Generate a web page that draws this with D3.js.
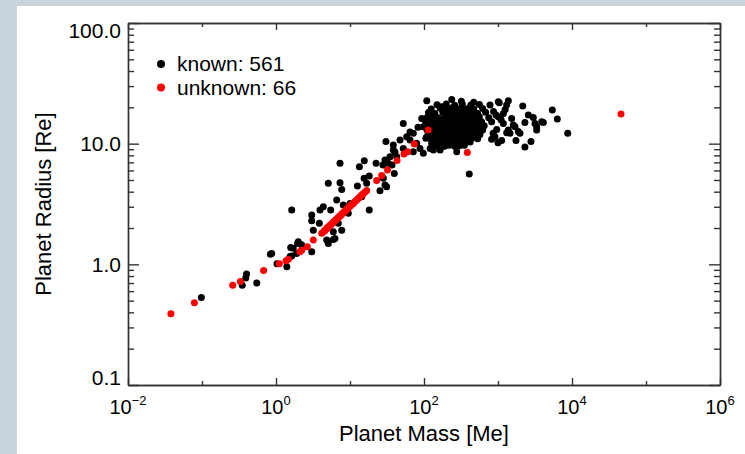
<!DOCTYPE html>
<html>
<head>
<meta charset="utf-8">
<script src="https://cdn.jsdelivr.net/npm/d3@7"></script>
<style>
  html, body { margin: 0; padding: 0; background: #c8d3db; }
  svg { display: block; font-family: "Liberation Sans", Arial, Helvetica, sans-serif; }
</style>
</head>
<body>
<svg id="chart"></svg>
<script>
// [mass (Earth masses), radius (Earth radii)]
const knownPlanets = [
  // small planets / lower part of the relation
  [0.098, 0.53], [0.35, 0.67], [0.39, 0.77], [0.40, 0.83], [0.55, 0.70], [0.84, 1.21], [0.875, 1.23],
  [1.03, 1.01], [1.40, 0.955], [1.58, 1.38], [1.63, 1.17], [1.90, 1.23], [1.96, 1.49], [1.55, 1.16],
  [2.0, 1.54], [2.22, 1.45], [1.71, 1.36], [3.04, 1.27], [1.63, 2.82], [3.04, 2.56], [3.04, 2.30],
  [3.93, 2.82], [4.36, 3.00], [5.48, 2.82], [6.61, 3.41], [8.11, 3.10], [9.49, 2.65], [10.0, 3.20],
  [14.4, 3.63], [18.2, 2.82], [3.85, 2.19], [6.95, 2.19], [7.73, 1.92], [4.84, 1.59], [5.95, 1.61],
  [5.09, 1.49], [3.19, 1.92], [6.27, 1.64], [5.95, 1.86],
  // neptunes / sub-saturns
  [7.33, 6.87], [13.4, 6.44], [15.6, 7.21], [22.5, 6.87], [29.7, 7.31], [34.7, 7.79], [39.7, 5.67],
  [5.09, 4.69], [7.33, 4.74], [7.73, 4.18], [12.6, 4.45], [15.5, 5.16], [18.2, 5.39], [16.8, 4.69],
  [29.7, 4.54], [25.4, 4.07], [28.2, 5.16], [31.3, 4.40], [32.9, 6.87], [27.9, 6.65], [37.0, 6.65],
  // ridge running into the giant cluster
  [52.5, 14.7], [30.6, 10.4], [277, 8.57], [409, 5.60], [38.5, 8.85], [42.8, 7.79], [71.7, 8.57],
  [88.3, 9.14], [97.9, 8.31], [121, 9.14], [127, 10.06], [58.4, 11.4], [71.7, 12.2], [97.9, 13.8],
  [93.1, 16.2], [109, 22.7], [173, 20.2], [237, 23.2], [320, 22.5], [470, 22.0], [38.5, 9.73],
  [47.4, 10.7], [64.7, 10.7], [79.6, 10.06], [52.5, 9.14], [109, 11.4], [121, 14.7], [40.5, 8.52],
  [64.7, 12.5], [83, 13.7], [106, 11.1], [141, 9.55], [165, 8.85], [192, 9.55], [134, 8.85],
  // giant planet cluster
  [150, 21.0], [200, 21.3], [260, 20.8], [330, 21.2], [430, 20.9], [560, 21.1],
  [125, 19.4], [165, 19.7], [210, 19.3], [240, 19.8], [290, 19.5], [350, 19.2], [400, 19.7], [470, 19.4], [620, 19.6],
  [115, 18.1], [140, 17.8], [180, 18.2], [220, 17.9], [260, 18.1], [300, 17.7], [345, 18.2], [390, 17.9],
  [450, 18.0], [530, 17.8], [680, 18.2],
  [110, 16.5], [130, 16.8], [155, 16.4], [190, 16.7], [230, 16.5], [270, 16.8], [315, 16.4], [360, 16.6],
  [410, 16.9], [480, 16.5], [560, 16.7], [750, 16.4],
  [105, 15.3], [125, 15.5], [145, 15.2], [170, 15.6], [205, 15.3], [245, 15.5], [285, 15.2], [330, 15.6],
  [380, 15.4], [440, 15.3], [510, 15.5], [600, 15.2],
  [115, 14.1], [135, 14.3], [160, 14.0], [190, 14.4], [225, 14.1], [265, 14.3], [305, 14.0], [350, 14.4],
  [400, 14.2], [460, 14.0], [540, 14.3], [650, 14.1],
  [110, 13.0], [125, 13.2], [150, 12.9], [180, 13.3], [210, 13.0], [245, 13.2], [285, 12.9], [330, 13.3],
  [380, 13.1], [440, 12.9], [520, 13.2], [620, 13.0],
  [115, 12.0], [140, 12.2], [165, 11.9], [195, 12.3], [230, 12.0], [270, 12.2], [315, 11.9], [365, 12.2],
  [420, 12.0], [480, 12.1], [570, 11.9],
  [120, 11.1], [145, 11.3], [175, 11.0], [205, 11.3], [240, 11.1], [280, 11.2], [325, 10.9], [380, 11.3],
  [440, 11.1], [530, 11.0],
  [135, 10.3], [160, 10.2], [190, 10.4], [225, 10.2], [265, 10.4], [310, 10.3], [360, 10.1], [420, 10.3],
  [150, 9.6], [185, 9.5], [220, 9.7], [260, 9.5], [300, 9.6], [350, 9.7],
  // heavier giants to the right
  [1040, 21.8], [1380, 22.7], [1310, 20.9], [2160, 20.5], [5420, 19.0], [6330, 16.0], [8750, 12.2],
  [2570, 17.3], [3000, 16.5], [2310, 15.0], [3330, 13.8], [3160, 14.7], [3900, 15.2], [4100, 15.0],
  [3330, 13.0], [2790, 10.4], [2310, 9.4], [1750, 10.6], [1980, 12.2], [1880, 12.6], [1700, 13.8],
  [1530, 16.2], [1120, 10.6], [910, 11.4], [1010, 16.7], [1180, 17.8], [1180, 14.7], [1380, 13.0],
  [1450, 12.2], [960, 13.1], [820, 15.2], [1610, 14.3], [1310, 12.3], [780, 20.9], [820, 10.9],
  [1010, 22.2], [870, 18.5], [940, 17.3], [1100, 15.8], [1250, 19.2], [860, 12.2], [1000, 10.2]
];

const unknownPlanets = [
  [0.038, 0.39], [0.079, 0.48], [0.26, 0.67], [0.33, 0.72], [0.68, 0.89], [1.11, 1.01], [1.37, 1.07],
  [1.47, 1.10], [2.11, 1.27], [2.22, 1.31], [2.65, 1.40], [3.19, 1.59], [4.15, 1.81],
  [4.42, 1.87], [4.57, 1.91], [4.68, 1.94], [4.84, 1.98], [4.95, 2.00], [5.01, 2.02], [5.13, 2.05],
  [5.31, 2.09], [5.50, 2.13], [5.62, 2.16], [5.82, 2.20], [5.96, 2.23], [6.03, 2.25], [6.24, 2.29],
  [6.46, 2.34], [6.61, 2.37], [6.84, 2.42], [7.08, 2.47], [7.24, 2.50], [7.33, 2.52], [7.59, 2.57],
  [7.76, 2.61], [8.04, 2.66], [8.32, 2.72], [8.61, 2.77], [8.91, 2.83], [9.12, 2.87], [9.23, 2.89],
  [9.55, 2.94], [9.89, 3.01], [10.2, 3.07], [10.7, 3.15], [11.0, 3.19], [11.1, 3.21], [11.5, 3.28],
  [12.0, 3.37], [12.6, 3.46], [13.2, 3.56], [14.0, 3.68], [14.5, 3.75], [14.8, 3.81], [15.8, 3.96],
  [16.8, 4.10],
  [22.9, 4.94], [26.8, 5.44], [32.1, 6.04], [43.2, 7.24], [53.7, 8.20], [60.2, 8.57], [74.0, 9.92],
  [114, 12.97], [385, 8.44], [45900, 17.6]
];

const knownCount = 561;
const unknownCount = 66;

const xMajorTicks = [1e-2, 1e0, 1e2, 1e4, 1e6];
const xMinorTicks = [1e-1, 1e1, 1e3, 1e5];
const xTickExponents = ["\u22122", "0", "2", "4", "6"];
const yMajorTicks = [0.1, 1, 10, 100];
const yTickLabels = ["0.1", "1.0", "10.0", "100.0"];

class MassRadiusChart {

  constructor(_config) {
    this.config = {
      parentElement: _config.parentElement,
      containerWidth: 745,
      containerHeight: 454,
      margin: { top: 23, right: 25, bottom: 69, left: 128 }
    };
    this.initVis();
  }

  initVis() {
    let vis = this;
    const m = vis.config.margin;

    vis.width = vis.config.containerWidth - m.left - m.right;
    vis.height = vis.config.containerHeight - m.top - m.bottom;

    vis.svg = d3.select(vis.config.parentElement)
      .attr('width', vis.config.containerWidth)
      .attr('height', vis.config.containerHeight);

    // white panel on the grey page
    vis.svg.append('rect')
      .attr('x', 17).attr('y', 6)
      .attr('width', vis.config.containerWidth - 17)
      .attr('height', vis.config.containerHeight - 6)
      .attr('fill', '#fff');

    vis.chartArea = vis.svg.append('g')
      .attr('transform', `translate(${m.left},${m.top})`);

    vis.xScale = d3.scaleLog().domain([1e-2, 1e6]).range([0, vis.width]);
    vis.yScale = d3.scaleLog().domain([0.1, 100]).range([vis.height, 0]);

    vis.renderVis();
  }

  renderVis() {
    let vis = this;
    const x = vis.xScale, y = vis.yScale;
    const yMinor = y.ticks().filter(v => !yMajorTicks.some(t => Math.abs(t - v) < 1e-9));

    const styleAxis = g => {
      g.selectAll('path, line').attr('stroke', '#333').attr('stroke-width', 1.4);
      g.selectAll('text').remove();
    };

    // ticks point inwards on all four sides
    const axes = [
      [d3.axisBottom(x).tickValues(xMajorTicks).tickSize(-7), `translate(0,${vis.height})`],
      [d3.axisBottom(x).tickValues(xMinorTicks).tickSize(-4), `translate(0,${vis.height})`],
      [d3.axisTop(x).tickValues(xMajorTicks).tickSize(-7), null],
      [d3.axisTop(x).tickValues(xMinorTicks).tickSize(-4), null],
      [d3.axisLeft(y).tickValues(yMajorTicks).tickSize(-11), null],
      [d3.axisLeft(y).tickValues(yMinor).tickSize(-6), null],
      [d3.axisRight(y).tickValues(yMajorTicks).tickSize(-11), `translate(${vis.width},0)`],
      [d3.axisRight(y).tickValues(yMinor).tickSize(-6), `translate(${vis.width},0)`]
    ];
    axes.forEach(([axis, tr]) => {
      const g = vis.chartArea.append('g').call(axis.tickSizeOuter(0));
      if (tr) g.attr('transform', tr);
      styleAxis(g);
    });

    // y tick labels, kept inside the axis range at the ends
    vis.chartArea.selectAll('.y-label')
      .data(yMajorTicks)
      .join('text')
      .attr('class', 'y-label')
      .attr('x', -7)
      .attr('y', d => Math.min(Math.max(y(d) + 7.5, 14.5), vis.height))
      .attr('text-anchor', 'end')
      .attr('font-size', 21)
      .attr('fill', '#000')
      .text((d, i) => yTickLabels[i]);

    // x tick labels as 10^n
    const xl = vis.chartArea.selectAll('.x-label')
      .data(xMajorTicks)
      .join('text')
      .attr('class', 'x-label')
      .attr('x', d => x(d))
      .attr('y', vis.height + 29)
      .attr('text-anchor', 'middle')
      .attr('font-size', 20)
      .attr('fill', '#000');
    xl.append('tspan').text('10');
    xl.append('tspan')
      .attr('dy', -9)
      .attr('font-size', 13)
      .text((d, i) => xTickExponents[i]);

    // axis titles
    vis.chartArea.append('text')
      .attr('x', vis.width / 2)
      .attr('y', vis.height + 56)
      .attr('text-anchor', 'middle')
      .attr('font-size', 22)
      .text('Planet Mass [Me]');

    vis.chartArea.append('text')
      .attr('transform', `translate(-77,${vis.height / 2}) rotate(-90)`)
      .attr('text-anchor', 'middle')
      .attr('font-size', 22)
      .text('Planet Radius [Re]');

    // points
    vis.chartArea.append('g')
      .selectAll('circle')
      .data(knownPlanets)
      .join('circle')
      .attr('cx', d => x(d[0]))
      .attr('cy', d => y(d[1]))
      .attr('r', 3.5)
      .attr('fill', '#000');

    vis.chartArea.append('g')
      .selectAll('circle')
      .data(unknownPlanets)
      .join('circle')
      .attr('cx', d => x(d[0]))
      .attr('cy', d => y(d[1]))
      .attr('r', 3.5)
      .attr('fill', '#ff0000');

    // legend
    const legendItems = [
      { label: `known: ${knownCount}`, color: '#000' },
      { label: `unknown: ${unknownCount}`, color: '#ff0000' }
    ];
    const legend = vis.chartArea.append('g')
      .attr('transform', 'translate(33,41)');
    const item = legend.selectAll('g')
      .data(legendItems)
      .join('g')
      .attr('transform', (d, i) => `translate(0,${i * 23.5})`);
    item.append('circle')
      .attr('r', 4)
      .attr('fill', d => d.color);
    item.append('text')
      .attr('x', 16)
      .attr('y', 7)
      .attr('font-size', 21)
      .text(d => d.label);
  }
}

new MassRadiusChart({ parentElement: '#chart' });
</script>
</body>
</html>
